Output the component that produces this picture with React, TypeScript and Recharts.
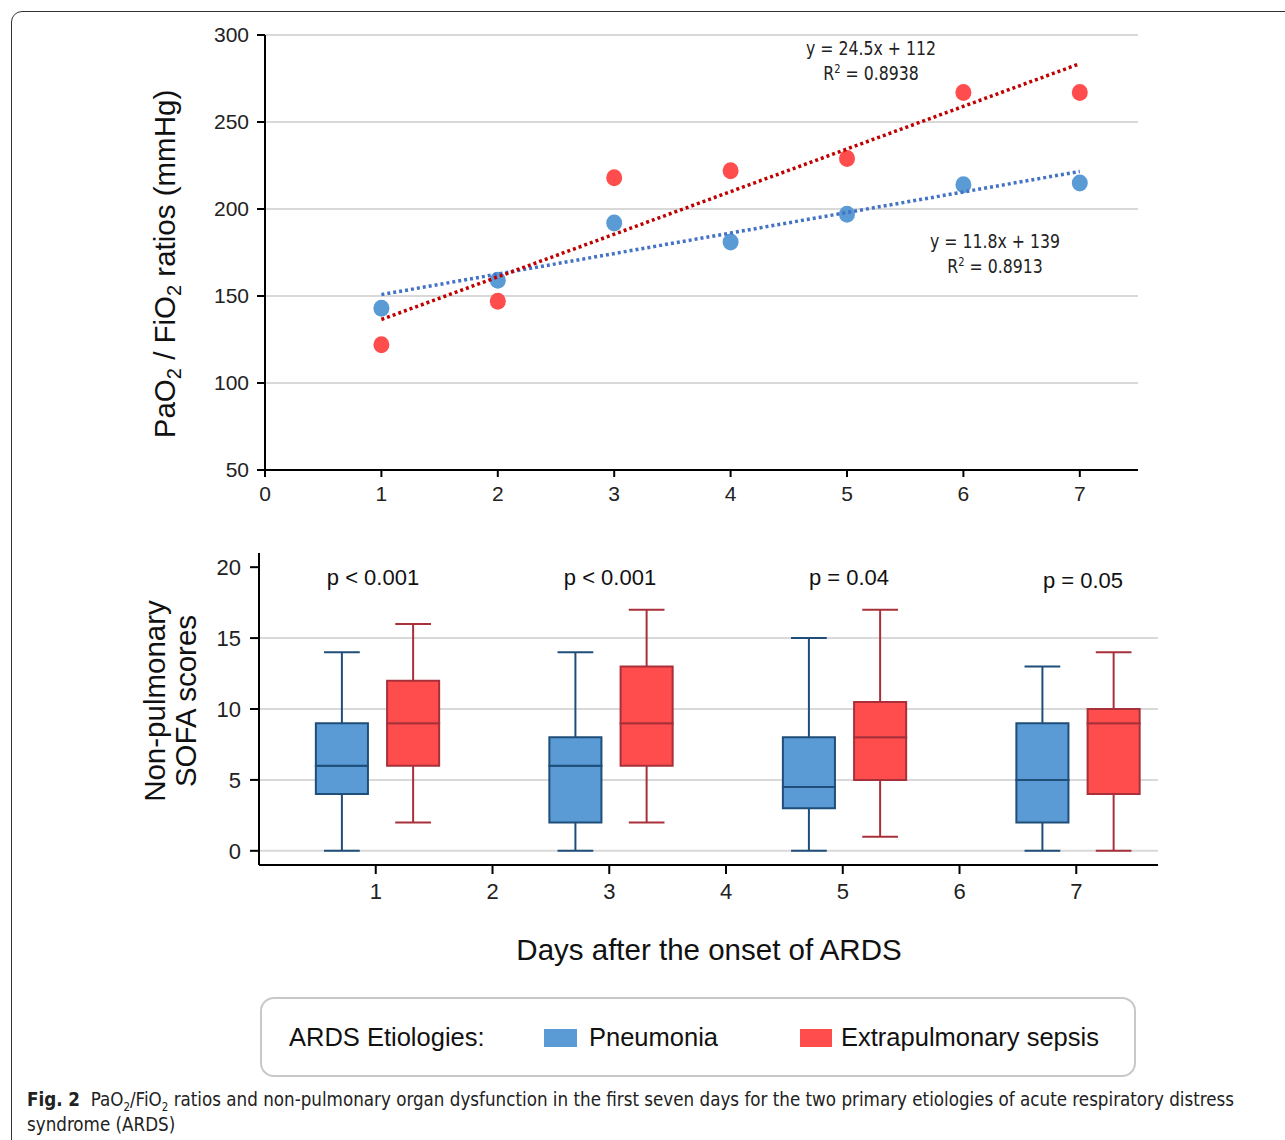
import React from 'react';
import {
  ScatterChart,
  Scatter,
  XAxis,
  YAxis,
  CartesianGrid,
  ReferenceArea,
  ReferenceLine,
} from 'recharts';

// PaO2/FiO2 by day
const days = [1, 2, 3, 4, 5, 6, 7];
const pneumoniaPF = [143, 159, 192, 181, 197, 214, 215];
const sepsisPF = [122, 147, 218, 222, 229, 267, 267];

// trend line end points (day 1 and day 7)
const trendDays = [1, 7];
const pneumoniaTrend = [150.8, 221.6];
const sepsisTrend = [136.5, 283.5];

// SOFA box plots: [min, q1, median, q3, max]
const boxDays = [1, 3, 5, 7];
const pValues = ['p < 0.001', 'p < 0.001', 'p = 0.04', 'p = 0.05'];
const pneumoniaSofa = [
  [0, 4, 6, 9, 14],
  [0, 2, 6, 8, 14],
  [0, 3, 4.5, 8, 15],
  [0, 2, 5, 9, 13],
];
const sepsisSofa = [
  [2, 6, 9, 12, 16],
  [2, 6, 9, 13, 17],
  [1, 5, 8, 10.5, 17],
  [0, 4, 9, 10, 14],
];

const pfTicks = [50, 100, 150, 200, 250, 300];
const dayTicks = [0, 1, 2, 3, 4, 5, 6, 7];
const sofaTicks = [0, 5, 10, 15, 20];

const BLUE = '#5b9bd5';
const BLUE_DARK = '#1f4e79';
const RED = '#ff4d4d';
const RED_DARK = '#a8303a';
const ARIAL = '"Liberation Sans", Arial, sans-serif';
const NARROW = '"DejaVu Sans Condensed", "DejaVu Sans", sans-serif';

const topTick = { fontSize: 21, fill: '#222', fontFamily: ARIAL };
const bottomTick = { fontSize: 22, fill: '#222', fontFamily: ARIAL };

const dot = (fill: string) => (props: any) => (
  <ellipse cx={props.cx} cy={props.cy} rx={8} ry={8.5} fill={fill} />
);

function boxMarks(stats: number[][], offset: number, fill: string, stroke: string, key: string) {
  const half = 0.223;
  const cap = 0.153;
  return stats.flatMap((s, i) => {
    const c = boxDays[i] + offset;
    const [mn, q1, med, q3, mx] = s;
    return [
      <ReferenceLine key={`${key}-lw${i}`} segment={[{ x: c, y: mn }, { x: c, y: q1 }]} stroke={stroke} strokeWidth={2} ifOverflow="visible" />,
      <ReferenceLine key={`${key}-uw${i}`} segment={[{ x: c, y: q3 }, { x: c, y: mx }]} stroke={stroke} strokeWidth={2} ifOverflow="visible" />,
      <ReferenceLine key={`${key}-lc${i}`} segment={[{ x: c - cap, y: mn }, { x: c + cap, y: mn }]} stroke={stroke} strokeWidth={2} ifOverflow="visible" />,
      <ReferenceLine key={`${key}-uc${i}`} segment={[{ x: c - cap, y: mx }, { x: c + cap, y: mx }]} stroke={stroke} strokeWidth={2} ifOverflow="visible" />,
      <ReferenceArea key={`${key}-lb${i}`} x1={c - half} x2={c + half} y1={q1} y2={med} fill={fill} fillOpacity={1} stroke={stroke} strokeWidth={2} ifOverflow="visible" />,
      <ReferenceArea key={`${key}-ub${i}`} x1={c - half} x2={c + half} y1={med} y2={q3} fill={fill} fillOpacity={1} stroke={stroke} strokeWidth={2} ifOverflow="visible" />,
    ];
  });
}

export default function App() {
  const pneumoniaPts = days.map((d, i) => ({ x: d, y: pneumoniaPF[i] }));
  const sepsisPts = days.map((d, i) => ({ x: d, y: sepsisPF[i] }));
  const pneumoniaLine = trendDays.map((d, i) => ({ x: d, y: pneumoniaTrend[i] }));
  const sepsisLine = trendDays.map((d, i) => ({ x: d, y: sepsisTrend[i] }));
  const anchors = boxDays.map((d, i) => ({ x: d, y: pneumoniaSofa[i][2] }));

  const abs = (left: number, top: number): React.CSSProperties => ({ position: 'absolute', left, top });
  const legendText: React.CSSProperties = { position: 'absolute', top: 1037, transform: 'translateY(-50%)', fontSize: 25.5, color: '#111', whiteSpace: 'nowrap' };
  const eqStyle: React.CSSProperties = { position: 'absolute', transform: 'translateX(-50%) scaleX(0.92)', fontFamily: NARROW, fontSize: 19, lineHeight: '25px', textAlign: 'center', color: '#222', whiteSpace: 'nowrap' };
  const supStyle: React.CSSProperties = { fontSize: 12, lineHeight: 0 };

  return (
    <div style={{ position: 'absolute', left: 0, top: 0, width: 1285, height: 1140, overflow: 'hidden', background: '#fff', fontFamily: ARIAL }}>
      {/* figure frame */}
      <div style={{ position: 'absolute', left: 11, top: 11, width: 1400, height: 1300, border: '1.5px solid #333', borderRadius: 11 }} />

      {/* top: PaO2/FiO2 */}
      <div style={abs(0, 0)}>
        <ScatterChart width={1285} height={520} margin={{ top: 35, right: 147, bottom: 20, left: 205 }}>
          <CartesianGrid vertical={false} stroke="#d9d9d9" strokeWidth={2} />
          <XAxis
            type="number"
            dataKey="x"
            domain={[0, 7.5]}
            ticks={dayTicks}
            height={30}
            tick={topTick}
            tickSize={7}
            tickMargin={9}
            axisLine={{ stroke: '#000', strokeWidth: 2 }}
            tickLine={{ stroke: '#000', strokeWidth: 2 }}
            allowDataOverflow
          />
          <YAxis
            type="number"
            dataKey="y"
            domain={[50, 300]}
            ticks={pfTicks}
            width={60}
            tick={topTick}
            tickSize={8}
            tickMargin={8}
            axisLine={{ stroke: '#000', strokeWidth: 2 }}
            tickLine={{ stroke: '#000', strokeWidth: 2 }}
            allowDataOverflow
          />
          <Scatter data={pneumoniaPts} shape={dot(BLUE)} isAnimationActive={false} />
          <Scatter data={sepsisPts} shape={dot(RED)} isAnimationActive={false} />
          <Scatter
            data={pneumoniaLine}
            line={{ stroke: '#4472c4', strokeWidth: 3.5, strokeDasharray: '3 3' }}
            shape={() => <g />}
            isAnimationActive={false}
          />
          <Scatter
            data={sepsisLine}
            line={{ stroke: '#c00000', strokeWidth: 3.5, strokeDasharray: '3 3' }}
            shape={() => <g />}
            isAnimationActive={false}
          />
        </ScatterChart>
      </div>

      {/* top y label */}
      <div style={{ position: 'absolute', left: 167, top: 264, transform: 'translate(-50%, -50%) rotate(-90deg)', whiteSpace: 'nowrap', fontSize: 29.5, color: '#111', lineHeight: 1 }}>
        PaO<sub style={{ fontSize: 20 }}>2</sub> / FiO<sub style={{ fontSize: 20 }}>2</sub> ratios (mmHg)
      </div>

      {/* trend equations */}
      <div style={{ ...eqStyle, left: 871, top: 36 }}>
        y = 24.5x + 112<br />R<sup style={supStyle}>2</sup> = 0.8938
      </div>
      <div style={{ ...eqStyle, left: 995, top: 229 }}>
        y = 11.8x + 139<br />R<sup style={supStyle}>2</sup> = 0.8913
      </div>

      {/* bottom: SOFA box plots */}
      <div style={abs(0, 520)}>
        <ScatterChart width={1285} height={400} margin={{ top: 33, right: 127, bottom: 25, left: 199 }}>
          <CartesianGrid vertical={false} horizontalValues={[0, 5, 10, 15]} stroke="#d9d9d9" strokeWidth={2} />
          <XAxis
            type="number"
            dataKey="x"
            domain={[0, 7.7]}
            ticks={days}
            height={30}
            tick={bottomTick}
            tickSize={9}
            tickMargin={9}
            axisLine={{ stroke: '#000', strokeWidth: 2 }}
            tickLine={{ stroke: '#000', strokeWidth: 2 }}
            allowDataOverflow
          />
          <YAxis
            type="number"
            dataKey="y"
            domain={[-1, 21]}
            ticks={sofaTicks}
            width={60}
            tick={bottomTick}
            tickSize={9}
            tickMargin={9}
            axisLine={{ stroke: '#000', strokeWidth: 2 }}
            tickLine={{ stroke: '#000', strokeWidth: 2 }}
            allowDataOverflow
          />
          <Scatter data={anchors} shape={() => <g />} isAnimationActive={false} />
          {boxMarks(pneumoniaSofa, -0.29, BLUE, BLUE_DARK, 'pn')}
          {boxMarks(sepsisSofa, 0.32, RED, RED_DARK, 'se')}
        </ScatterChart>
      </div>

      {/* bottom y label */}
      <div style={{ position: 'absolute', left: 170, top: 701, transform: 'translate(-50%, -50%) rotate(-90deg)', whiteSpace: 'nowrap', fontSize: 29.5, color: '#111', lineHeight: '31px', textAlign: 'center' }}>
        Non-pulmonary<br />SOFA scores
      </div>

      {/* p values */}
      {pValues.map((p, i) => (
        <div key={p + i} style={{ position: 'absolute', left: [373, 610, 849, 1083][i], top: i === 3 ? 581 : 578, transform: 'translate(-50%, -50%)', fontSize: 22, color: '#111', whiteSpace: 'nowrap' }}>
          {p}
        </div>
      ))}

      {/* x title */}
      <div style={{ position: 'absolute', left: 709, top: 950, transform: 'translate(-50%, -50%)', fontSize: 29.5, color: '#111', whiteSpace: 'nowrap' }}>
        Days after the onset of ARDS
      </div>

      {/* legend */}
      <div style={{ position: 'absolute', left: 260, top: 997, width: 872, height: 76, border: '2px solid #c8c8c8', borderRadius: 14, boxSizing: 'content-box' }} />
      <div style={{ ...legendText, left: 289 }}>ARDS Etiologies:</div>
      <div style={{ position: 'absolute', left: 544, top: 1029, width: 33, height: 18, background: BLUE }} />
      <div style={{ ...legendText, left: 589 }}>Pneumonia</div>
      <div style={{ position: 'absolute', left: 800, top: 1029, width: 32, height: 18, background: RED }} />
      <div style={{ ...legendText, left: 841 }}>Extrapulmonary sepsis</div>

      {/* caption */}
      <div style={{ position: 'absolute', left: 27, top: 1087, transform: 'scaleX(0.955)', transformOrigin: 'left top', fontFamily: NARROW, fontSize: 19.5, lineHeight: '25px', color: '#222', whiteSpace: 'nowrap' }}>
        <b>Fig. 2</b>&nbsp; PaO<sub style={{ fontSize: 12, lineHeight: 0 }}>2</sub>/FiO<sub style={{ fontSize: 12, lineHeight: 0 }}>2</sub> ratios and non-pulmonary organ dysfunction in the first seven days for the two primary etiologies of acute respiratory distress
        <br />syndrome (ARDS)
      </div>
    </div>
  );
}
